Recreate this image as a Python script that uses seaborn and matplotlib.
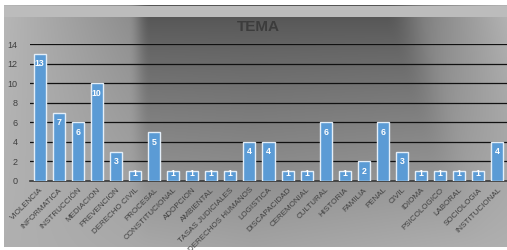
import numpy as np
import pandas as pd
import matplotlib
matplotlib.use("Agg")
import matplotlib.pyplot as plt
import seaborn as sns

categories = ["VIOLENCIA", "INFORMATICA", "INSTRUCCIÓN", "MEDIACION", "PREVENCION",
              "DERECHO CIVIL", "PROCESAL", "CONSTITUCIONAL", "ADOPCION", "AMBIENTAL",
              "TASAS JUDICIALES", "DERECHOS HUMANOS", "LOGISTICA", "DISCAPACIDAD",
              "CEREMONIAL", "CULTURAL", "HISTORIA", "FAMILIA", "PENAL", "CIVIL",
              "IDIOMA", "PSICOLOGICO", "LABORAL", "SOCIOLOGIA", "INSTITUCIONAL"]
values = [13, 7, 6, 10, 3, 1, 5, 1, 1, 1, 1, 4, 4, 1, 1, 6, 1, 2, 6, 3, 1, 1, 1, 1, 4]
y_ticks = [0, 2, 4, 6, 8, 10, 12, 14]
title = "TEMA"

df = pd.DataFrame({"tema": categories, "n": values})

plt.rcParams["font.family"] = ["Liberation Sans", "DejaVu Sans"]

W, H = 507, 250
fig = plt.figure(figsize=(W / 100, H / 100), dpi=100)
fig.patch.set_facecolor("white")

# background gradient
xs = np.arange(W, dtype=float)
ys = np.arange(H, dtype=float)
X, Y = np.meshgrid(xs, ys)

def smooth(a, b, x):
    t = np.clip((x - a) / (b - a), 0, 1)
    return t * t * (3 - 2 * t)

dark = 0.34
left = 0.72 - 0.17 * (X / 135.0)
XR = X - 0.3 * (Y - 17)
top_row = left * (1 - smooth(128, 150, X)) + dark * smooth(128, 150, X)
right_val = 0.52 + 0.18 * np.clip((XR - 430) / 77.0, 0, 1)
top_row = top_row * (1 - smooth(385, 435, XR)) + right_val * smooth(385, 435, XR)
bottom = 0.64 + 0.05 * np.abs(X - 253) / 253
t = np.clip((Y - 17) / 230.0, 0, 1) ** 0.85
v = top_row * (1 - t) + bottom * t
v[(Y >= 6) & (Y < 17)] = 0.74
img = np.dstack([v, v, v])
img[Y < 5] = 1.0
img[X < 4] = 1.0
img[Y > 246] = 1.0

bg = fig.add_axes([0, 0, 1, 1], zorder=0)
bg.imshow(img, aspect="auto", extent=(0, W, H, 0), interpolation="bilinear")
bg.axis("off")

ax = fig.add_axes([30 / W, 1 - 181 / H, 1 - 30 / W, (181 - 44) / H], zorder=1)
ax.set_facecolor("none")

sns.barplot(data=df, x="tema", y="n", color="#5b9bd5", width=0.63,
            edgecolor="#e4eef8", linewidth=1.0, saturation=1, ax=ax, zorder=3)

ax.set_ylim(0, 14)
ax.set_xlim(-0.5, len(categories) - 0.5)
ax.set_yticks(y_ticks)
ax.set_yticklabels([str(t) for t in y_ticks], fontsize=6.5, color="#404040")
ax.set_xticks(range(len(categories)))
ax.set_xticklabels(categories, rotation=45, ha="right", rotation_mode="anchor",
                   fontsize=5.8, color="#404040")
ax.tick_params(axis="both", length=0, pad=4)
ax.tick_params(axis="y", pad=9)
ax.set_xlabel("")
ax.set_ylabel("")
for s in ["top", "right", "left"]:
    ax.spines[s].set_visible(False)
ax.spines["bottom"].set_color("#3a3a3a")
ax.spines["bottom"].set_linewidth(1.2)
ax.yaxis.grid(True, color="#111111", linewidth=0.9, zorder=0)
ax.set_axisbelow(True)

px_per_unit = (181 - 44) / 14.0
for i, val in enumerate(values):
    bar_px = val * px_per_unit
    off = min(10.0, bar_px - 7.0)
    ax.annotate(str(val), (i, val), xytext=(0, -off * 0.72), textcoords="offset points",
                ha="center", va="center", fontsize=6.3, color="white", fontweight="bold",
                zorder=5)

fig.text(258 / W, 1 - 27 / H, title, ha="center", va="center", fontsize=11,
         fontweight="bold", color="#3c3c3c", zorder=2)

fig.savefig("out.png", dpi=100)
